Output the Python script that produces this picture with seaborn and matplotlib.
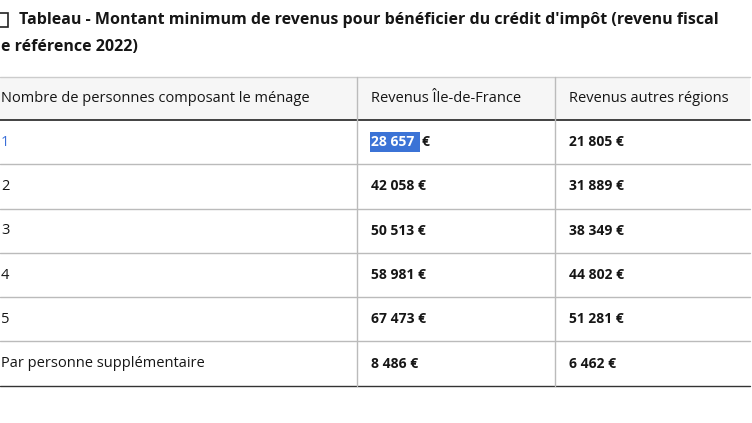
import seaborn as sns
import matplotlib.pyplot as plt
from matplotlib.patches import Rectangle

sns.set_theme(style="white")
plt.rcParams['font.family'] = 'Open Sans'

title_lines = ["Tableau - Montant minimum de revenus pour bénéficier du crédit d'impôt (revenu fiscal",
               "e référence 2022)"]
headers = ["Nombre de personnes composant le ménage", "Revenus Île-de-France", "Revenus autres régions"]
households = ["1", "2", "3", "4", "5", "Par personne supplémentaire"]
idf = ["28 657", "42 058", "50 513", "58 981", "67 473", "8 486"]
autres = ["21 805", "31 889", "38 349", "44 802", "51 281", "6 462"]

W, H = 752, 423
fig = plt.figure(figsize=(W / 100, H / 100), dpi=100)
ax = fig.add_axes([0, 0, 1, 1])
ax.set_xlim(0, W)
ax.set_ylim(H, 0)
ax.axis('off')

# title
ax.add_patch(Rectangle((-3, 13), 11, 14, fill=False, lw=1.2, ec='#222'))
ax.text(19, 20, title_lines[0], fontsize=11.5, weight='bold', va='center', color='#161616')
ax.text(1, 47, title_lines[1], fontsize=11.5, weight='bold', va='center', color='#161616')

cols = [0, 357, 555, 750]
top, head_h, row_h = 77, 43, 44.3
ax.add_patch(Rectangle((0, top), 750, head_h, color='#f6f6f6', lw=0))
for j, h in enumerate(headers):
    ax.text(cols[j] + (14 if j else 1), top + head_h / 2, h, fontsize=10.5, va='center', color='#161616')

for i in range(len(households)):
    yc = top + head_h + row_h * (i + 0.5)
    ax.text(1, yc, households[i], fontsize=10.5, va='center',
            color='#3a6fd8' if i == 0 else '#161616')
    if i == 0:
        ax.add_patch(Rectangle((370, yc - 10), 50, 20, color='#3b73d6', lw=0))
        ax.text(371, yc, idf[i], fontsize=10, weight='bold', va='center', color='white')
        ax.text(422, yc, "€", fontsize=10, weight='bold', va='center', color='#161616')
    else:
        ax.text(371, yc, idf[i] + " €", fontsize=10, weight='bold', va='center', color='#161616')
    ax.text(569, yc, autres[i] + " €", fontsize=10, weight='bold', va='center', color='#161616')

bottom = top + head_h + row_h * len(households)
# horizontal lines
ax.plot([0, 750], [top, top], color='#cccccc', lw=1)
ax.plot([0, 750], [top + head_h, top + head_h], color='#333333', lw=1.3)
for i in range(1, len(households) + 1):
    y = top + head_h + row_h * i
    ax.plot([0, 750], [y, y], color='#bbbbbb' if i < len(households) else '#333333', lw=1)
for x in cols[1:3]:
    ax.plot([x, x], [top, bottom], color='#bbbbbb', lw=1)

fig.savefig("out.png", dpi=100)
